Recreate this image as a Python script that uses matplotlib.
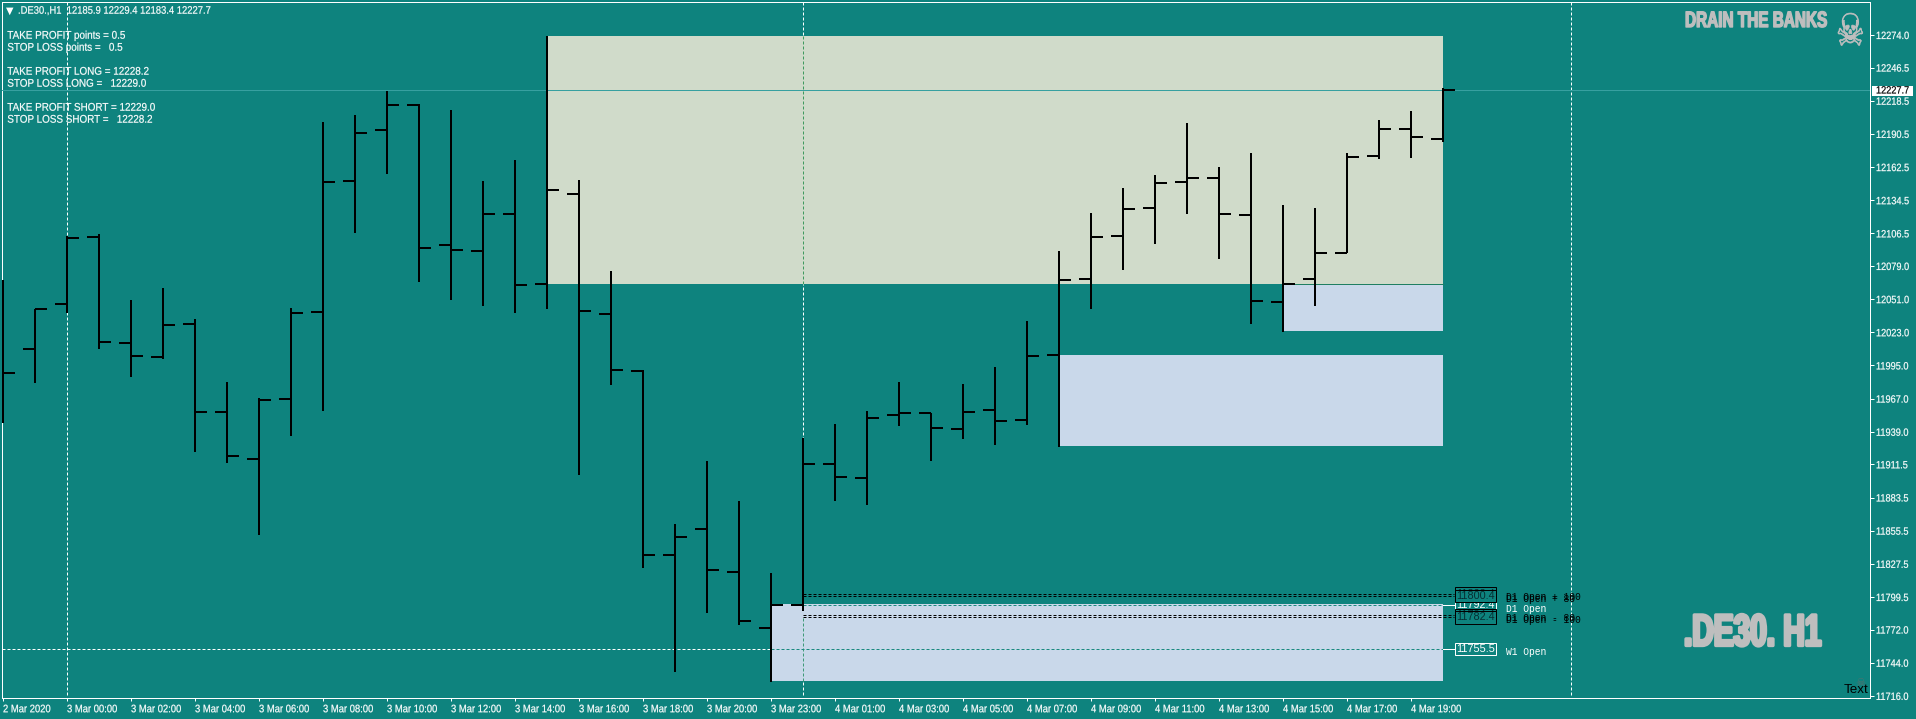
import matplotlib
matplotlib.use('Agg')
import matplotlib.pyplot as plt
import matplotlib.patheffects as pe
from matplotlib.patches import Rectangle
from matplotlib.transforms import Affine2D

# hourly bars, .DE30 H1
opens = [12000.0, 12009.1, 12047.1, 12103.5, 12014.2, 12002.1, 12030.3, 11955.7, 11916.0, 11966.7,
         12040.1, 12150.7, 12193.8, 12214.9, 12096.7, 12091.6, 12122.9, 12063.8, 12139.8, 12038.4,
         11990.3, 11835.0, 11856.9, 11820.6, 11773.3, 11792.7, 11911.8, 11900.0, 11953.2, 11954.9,
         11941.3, 11957.4, 11948.9, 12003.8, 12068.0, 12104.3, 12127.9, 12149.9, 12153.3, 12122.0,
         12048.6, 12068.0, 12089.9, 12171.8, 12194.6, 12185.9]
highs = [12067.1, 12042.9, 12104.3, 12105.7, 12050.3, 12060.1, 12034.0, 11981.0, 11967.5, 12043.5,
         12200.5, 12206.5, 12226.7, 12215.7, 12210.7, 12150.7, 12168.5, 12273.2, 12151.6, 12074.7,
         11991.2, 11861.1, 11914.3, 11880.6, 11819.8, 11933.7, 11945.6, 11956.5, 11981.0, 11954.9,
         11979.3, 11993.7, 12032.5, 12091.6, 12123.7, 12144.8, 12155.8, 12199.7, 12162.6, 12174.4,
         12130.5, 12127.9, 12174.4, 12202.2, 12209.8, 12229.4]
lows = [11946.4, 11979.9, 12039.5, 12009.1, 11985.5, 12000.4, 11922.2, 11912.9, 11852.1, 11935.4,
        11956.5, 12106.8, 12156.6, 12065.5, 12050.3, 12045.2, 12039.3, 12042.7, 11902.5, 11978.5,
        11824.0, 11736.2, 11786.0, 11775.9, 11727.7, 11787.7, 11880.6, 11877.2, 11943.9, 11914.3,
        11932.9, 11927.8, 11944.7, 11926.1, 12042.7, 12075.6, 12097.5, 12122.9, 12084.9, 12030.0,
        12023.2, 12045.2, 12089.9, 12169.3, 12170.2, 12183.4]
closes = [11988.9, 12042.9, 12102.6, 12015.1, 12003.0, 12029.4, 11955.7, 11918.6, 11965.8, 12039.3,
          12149.9, 12191.3, 12214.9, 12094.2, 12092.5, 12122.9, 12062.9, 12143.1, 12041.0, 11991.2,
          11835.0, 11850.2, 11822.3, 11779.2, 11792.7, 11911.8, 11900.8, 11950.6, 11954.9, 11942.2,
          11955.7, 11948.1, 12003.0, 12067.1, 12103.5, 12127.1, 12149.0, 12153.3, 12122.9, 12049.4,
          12063.8, 12089.9, 12171.0, 12194.6, 12187.9, 12227.7]

price_ticks = [12274.0, 12246.5, 12218.5, 12190.5, 12162.5, 12134.5, 12106.5, 12079.0, 12051.0, 12023.0,
               11995.0, 11967.0, 11939.0, 11911.5, 11883.5, 11855.5, 11827.5, 11799.5, 11772.0, 11744.0, 11716.0]
time_labels = ['2 Mar 2020', '3 Mar 00:00', '3 Mar 02:00', '3 Mar 04:00', '3 Mar 06:00', '3 Mar 08:00',
               '3 Mar 10:00', '3 Mar 12:00', '3 Mar 14:00', '3 Mar 16:00', '3 Mar 18:00', '3 Mar 20:00',
               '3 Mar 23:00', '4 Mar 01:00', '4 Mar 03:00', '4 Mar 05:00', '4 Mar 07:00', '4 Mar 09:00',
               '4 Mar 11:00', '4 Mar 13:00', '4 Mar 15:00', '4 Mar 17:00', '4 Mar 19:00']

# zones: first bar, top price, bottom price
zone_tan = (17, 12273.2, 12063.8)
zone_blue = [(40, 12063.8, 12024.1), (33, 12003.8, 11927.0), (24, 11793.6, 11728.6)]

# levels
bid = 12227.7
w1_open = 11755.5
d1_open = 11792.4
d1_black = [11802.4, 11800.4, 11784.4, 11782.4]
cross_bars = [2, 25, 49]

info_lines = [(35.7, 'TAKE PROFIT points = 0.5'), (47.7, 'STOP LOSS points =   0.5'),
              (71.7, 'TAKE PROFIT LONG = 12228.2'), (83.7, 'STOP LOSS LONG =   12229.0'),
              (107.7, 'TAKE PROFIT SHORT = 12229.0'), (119.7, 'STOP LOSS SHORT =   12228.2')]

TEAL = '#0E837E'
TAN = '#D0DBCA'
BLUE = '#C9D8EA'
GRAY = '#BEBEBE'
UI_FONT = ['Liberation Sans', 'DejaVu Sans']
MONO = ['Liberation Mono', 'DejaVu Sans Mono']
W, H = 1916, 719
L, R, T, B = 2, 1870, 2, 698
THIN = 0.72   # one pixel
THICK = 1.44  # two pixels
DASH = (3, 2)

plt.rcParams['font.family'] = UI_FONT
fig = plt.figure(figsize=(W / 100, H / 100), dpi=100, facecolor=TEAL)
ax = fig.add_axes([L / W, 1 - B / H, (R - L) / W, (B - T) / H], facecolor=TEAL)


class Squeeze(pe.AbstractPathEffect):
    # narrows a text from where it starts, the chart font is narrower than what is installed
    def __init__(self, sx, fat=0.0):
        super().__init__()
        self.sx, self.fat = sx, fat

    def draw_path(self, renderer, gc, tpath, affine, rgbFace=None):
        x0 = affine.get_matrix()[0, 2]
        a = affine + Affine2D().translate(-x0, 0).scale(self.sx, 1).translate(x0, 0)
        gc0 = renderer.new_gc()
        gc0.copy_properties(gc)
        gc0.set_linewidth(self.fat)
        gc0.set_foreground(rgbFace)
        renderer.draw_path(gc0, tpath, a, rgbFace)
        gc0.restore()


def bar_x(px):
    return (px - 3) / 32


def price_y(px):
    return 12274 - (px - 35) * 0.8443


def level_px(price):
    return 35 + (12274 - price) / 0.8443


def fig_text(x, y, s, **kw):
    # pixel position from the top left of the picture
    return fig.text(x / W, 1 - y / H, s, va='center', **kw)


ax.set_xlim(bar_x(L), bar_x(R))
ax.set_ylim(price_y(B), price_y(T))
for s in ax.spines.values():
    s.set_color('white')
    s.set_linewidth(THIN)

ax.yaxis.tick_right()
ax.set_yticks(price_ticks)
ax.set_yticklabels(['%.1f' % p for p in price_ticks])
ax.set_xticks(range(0, 46, 2))
ax.set_xticklabels(time_labels, ha='left')
ax.tick_params(axis='y', colors='white', length=2.9, width=THIN, labelsize=7.6, pad=1.4)
ax.tick_params(axis='x', colors='white', length=2.5, width=THIN, labelsize=7.8, pad=2.0)
for lab in ax.get_yticklabels():
    lab.set_path_effects([Squeeze(0.87, 0.15)])
for lab in ax.get_xticklabels():
    lab.set_path_effects([Squeeze(0.87, 0.15)])

last = 45
px = 1 / 32
end = last + 11 * px
# zones
ax.add_patch(Rectangle((zone_tan[0] + px, zone_tan[2]), last - zone_tan[0] - px, zone_tan[1] - zone_tan[2],
                       fc=TAN, ec='none', zorder=2))
for first, top, bot in zone_blue:
    ax.add_patch(Rectangle((first + px, bot), last - first - px, top - bot, fc=BLUE, ec='none', zorder=2))
ax.plot([40, last], [zone_blue[0][1]] * 2, color='#1F7F62', lw=THIN, zorder=3)

# crosshair style dashes, white on the background, green over the zones
for b in cross_bars:
    ax.plot([b, b], [price_y(695), price_y(T)], color='white', lw=THIN, dashes=DASH, zorder=1)
ax.plot([25, 25], [zone_tan[2], zone_tan[1]], color='#3F9A5E', lw=THIN, dashes=DASH, zorder=3)
ax.plot([25, 25], [zone_blue[2][2], 11782.4], color='#3F9A78', lw=THIN, dashes=DASH, zorder=3)

# horizontal levels
ax.plot([bar_x(L), bar_x(R)], [bid, bid], color='#37A0A0', lw=THIN, zorder=3)
ax.plot([bar_x(L), 24], [w1_open, w1_open], color='white', lw=THIN, dashes=DASH, zorder=3)
ax.plot([24, last], [w1_open, w1_open], color='#1A8A80', lw=THIN, dashes=DASH, zorder=3)
ax.plot([25, last], [d1_open, d1_open], color='#1A8A80', lw=THIN, dashes=DASH, zorder=3)
ax.plot([last, end], [w1_open, w1_open], color='white', lw=THIN, zorder=3)
ax.plot([last, end], [d1_open, d1_open], color='white', lw=THIN, zorder=3)
for lvl in d1_black:
    ax.plot([25, end], [lvl, lvl], color='black', lw=THIN, dashes=DASH, zorder=3)

# the bars
for i in range(46):
    ax.plot([i, i], [lows[i], highs[i]], color='black', lw=THICK, solid_capstyle='butt', zorder=5)
    ax.plot([i - 12 * px, i], [opens[i], opens[i]], color='black', lw=THICK, solid_capstyle='butt', zorder=5)
    ax.plot([i, i + 12 * px], [closes[i], closes[i]], color='black', lw=THICK, solid_capstyle='butt', zorder=5)

fig_text(18, 10.7, '.DE30.,H1  12185.9 12229.4 12183.4 12227.7', color='white', fontsize=7.8,
         path_effects=[Squeeze(0.87, 0.15)])
fig_text(9.7, 10.4, '\u25bc', color='white', fontsize=7, ha='center', family='DejaVu Sans')
for y, s in info_lines:
    fig_text(7.3, y, s, color='white', fontsize=8.0, path_effects=[Squeeze(0.89, 0.15)])

# labels of the levels, black ones go over the white D1 box
box_labels = [(w1_open, 'W1 Open', 'white'), (d1_open, 'D1 Open', 'white'),
              (11802.4, 'D1 Open + 100', 'black'), (11800.4, 'D1 Open + 80', 'black'),
              (11784.4, 'D1 Open - 80', 'black'), (11782.4, 'D1 Open - 100', 'black')]
for k, (lvl, name, col) in enumerate(box_labels):
    yy = level_px(lvl)
    fig.add_artist(Rectangle((1454.5 / W, 1 - (yy + 6.3) / H), 41 / W, 12.6 / H, transform=fig.transFigure,
                             fc=TEAL, ec=col, lw=THIN, zorder=6 + 2 * k))
    fig_text(1456, yy, '%.1f' % lvl, color='white' if col == 'white' else '#062F33', fontsize=7.8, zorder=7 + 2 * k)
    fig_text(1506, yy + 3.2, name, color=col, fontsize=6.9, family=MONO, zorder=20)

# current price tag
fig.add_artist(Rectangle((1872 / W, 1 - 95.7 / H), 41 / W, 10 / H, transform=fig.transFigure,
                         fc='white', ec='none', zorder=6))
fig_text(1876, 90.5, '12227.7', color='black', fontsize=7.6, zorder=7, path_effects=[Squeeze(0.87, 0.15)])

# watermarks
fig_text(1685, 21.5, 'DRAIN THE BANKS', color=GRAY, fontsize=16, weight='bold',
         path_effects=[Squeeze(0.69, 1.0)])
fig_text(1836, 33, '\u2620', color=GRAY, fontsize=32, family='DejaVu Sans',
         path_effects=[Squeeze(0.72, 0.5)])
fig_text(1684, 634, '.DE30. H1', color=GRAY, fontsize=32, weight='bold',
         path_effects=[Squeeze(0.67, 2.4)])
fig_text(1860, 683, '\u2620', color='#55706E', fontsize=8, ha='center', family='DejaVu Sans')
fig_text(1844, 690, 'Text', color='black', fontsize=9.6, zorder=8)

fig.savefig('out.png', dpi=100, facecolor=TEAL)
